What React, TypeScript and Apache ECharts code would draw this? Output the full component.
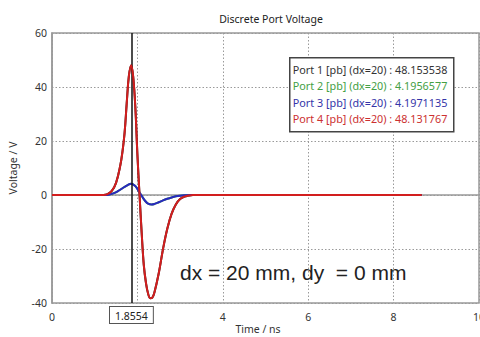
import React, { useEffect, useRef } from "react";
import * as echarts from "echarts";

const titleText = "Discrete Port Voltage";
const xAxisTitle = "Time / ns";
const yAxisTitle = "Voltage / V";
const xTicks = [0, 2, 4, 6, 8, 10];
const yTicks = [-40, -20, 0, 20, 40, 60];
const cursorTime = 1.8554;

// Port 4 (red) — Port 1 overlaps it
const port4Values: [number, number][] = [
  [0, 0], [1.2, 0], [1.3, 0.3], [1.4, 1.5], [1.5, 4.5], [1.6, 11], [1.65, 16],
  [1.7, 23], [1.75, 34], [1.8, 44], [1.855, 48.1], [1.9, 44], [1.95, 33],
  [2.0, 15], [2.05, 0], [2.1, -14], [2.15, -26], [2.2, -32.5], [2.25, -36.5],
  [2.3, -38.2], [2.35, -38], [2.4, -36], [2.5, -29], [2.6, -20], [2.7, -12.5],
  [2.8, -7], [2.9, -3.5], [3.0, -1.5], [3.1, -0.6], [3.2, -0.2], [3.3, 0], [8.66, 0],
];
// Port 3 (blue) — Port 2 overlaps it
const port3Values: [number, number][] = [
  [0, 0], [1.25, 0], [1.35, 0.2], [1.45, 0.7], [1.55, 1.5], [1.65, 2.5],
  [1.75, 3.5], [1.855, 4.2], [1.95, 3.3], [2.0, 2.2], [2.05, 0.9], [2.1, -0.3],
  [2.15, -1.5], [2.2, -2.5], [2.25, -3.2], [2.33, -3.5], [2.4, -3.3], [2.5, -2.7],
  [2.6, -2.0], [2.7, -1.4], [2.8, -0.9], [2.9, -0.5], [3.0, -0.25], [3.1, -0.1],
  [3.25, 0], [8.66, 0],
];
const port1Values = port4Values;
const port2Values = port3Values;

const seriesNames = [
  "Port 1 [pb] (dx=20)",
  "Port 2 [pb] (dx=20)",
  "Port 3 [pb] (dx=20)",
  "Port 4 [pb] (dx=20)",
];
const cursorReadouts = ["48.153538", "4.1956577", "4.1971135", "48.131767"];
const seriesColors = ["#222222", "#3a9e3a", "#2828c0", "#d21e1e"];
const legendColors = ["#333333", "#44a044", "#3434a8", "#cc3030"];
const annotation = "dx = 20 mm, dy\u00a0 = 0 mm";

export default function App() {
  const ref = useRef<HTMLDivElement>(null);
  useEffect(() => {
    if (!ref.current) return;
    const chart = echarts.init(ref.current, undefined, { renderer: "svg" });
    const font = "Noto Sans";
    const allData = [port1Values, port2Values, port3Values, port4Values];
    const series: any[] = allData.map((d, i) => ({
      name: seriesNames[i],
      type: "line",
      data: d,
      showSymbol: false,
      smooth: 0.4,
      lineStyle: { color: seriesColors[i], width: 2 },
      itemStyle: { color: seriesColors[i] },
      z: 2 + i,
    }));
    series[3].markLine = {
      silent: true,
      symbol: ["none", "none"],
      lineStyle: { color: "#111", width: 1.5, type: "solid" },
      label: {
        show: true,
        position: "start",
        formatter: String(cursorTime),
        color: "#222",
        fontFamily: font,
        fontSize: 10.5,
        backgroundColor: "#fff",
        borderColor: "#555",
        borderWidth: 1,
        padding: [3, 5, 2, 5],
        distance: 4,
      },
      data: [{ xAxis: cursorTime }],
    };

    const legendChildren: any[] = [
      {
        type: "rect",
        z: 100,
        shape: { x: 0, y: 0, width: 164, height: 74 },
        style: { fill: "#fff", stroke: "#444", lineWidth: 1.5 },
      },
    ];
    seriesNames.forEach((n, i) => {
      legendChildren.push({
        type: "text",
        z: 101,
        x: 3,
        y: 11.5 + i * 16.4,
        style: {
          text: `${n} : ${cursorReadouts[i]}`,
          fill: legendColors[i],
          font: `10.8px "${font}"`,
          verticalAlign: "middle",
        },
      });
    });

    chart.setOption({
      animation: false,
      backgroundColor: "#fff",
      title: {
        text: titleText,
        left: 266,
        textAlign: "center",
        top: 8,
        textStyle: { fontFamily: font, fontSize: 10.5, fontWeight: "normal", color: "#222" },
      },
      grid: {
        left: 52,
        right: 1,
        top: 33,
        bottom: 34,
        containLabel: false,
        outerBoundsMode: "none",
        show: true,
        borderColor: "#999",
        borderWidth: 1.5,
      },
      xAxis: {
        type: "value",
        min: xTicks[0],
        max: xTicks[xTicks.length - 1],
        interval: 2,
        axisLine: { show: true, lineStyle: { color: "#999", width: 1.5 } },
        axisTick: { show: false },
        axisLabel: {
          fontFamily: font,
          fontSize: 10.5,
          color: "#333",
          margin: 8,
          formatter: (v: number) => (v === 2 ? "" : String(v)),
        },
        splitLine: { show: true, lineStyle: { color: "#9a9a9a", type: [1.5, 2], width: 1 } },
      },
      yAxis: {
        type: "value",
        min: yTicks[0],
        max: yTicks[yTicks.length - 1],
        interval: 20,
        name: yAxisTitle,
        nameLocation: "middle",
        nameGap: 34,
        nameTextStyle: { fontFamily: font, fontSize: 10.5, color: "#333" },
        axisLine: { show: true, lineStyle: { color: "#999", width: 1.5 } },
        axisTick: { show: false },
        axisLabel: { fontFamily: font, fontSize: 10.5, color: "#333", margin: 5 },
        splitLine: { show: true, lineStyle: { color: "#9a9a9a", type: [1.5, 2], width: 1 } },
      },
      series,
      graphic: [
        { type: "group", left: 289, top: 57, z: 100, children: legendChildren },
        {
          type: "text",
          left: 180,
          top: 262,
          z: 100,
          style: {
            text: annotation,
            fill: "#222",
            font: '21px "Liberation Sans"',
          },
        },
        {
          type: "text",
          x: 258,
          y: 329,
          z: 100,
          style: {
            text: xAxisTitle,
            fill: "#333",
            font: `10.5px "${font}"`,
            align: "center",
            verticalAlign: "middle",
          },
        },
      ],
    });
    return () => chart.dispose();
  }, []);
  return (
    <div
      ref={ref}
      style={{ position: "fixed", left: 0, top: 0, width: 480, height: 337 }}
    />
  );
}
